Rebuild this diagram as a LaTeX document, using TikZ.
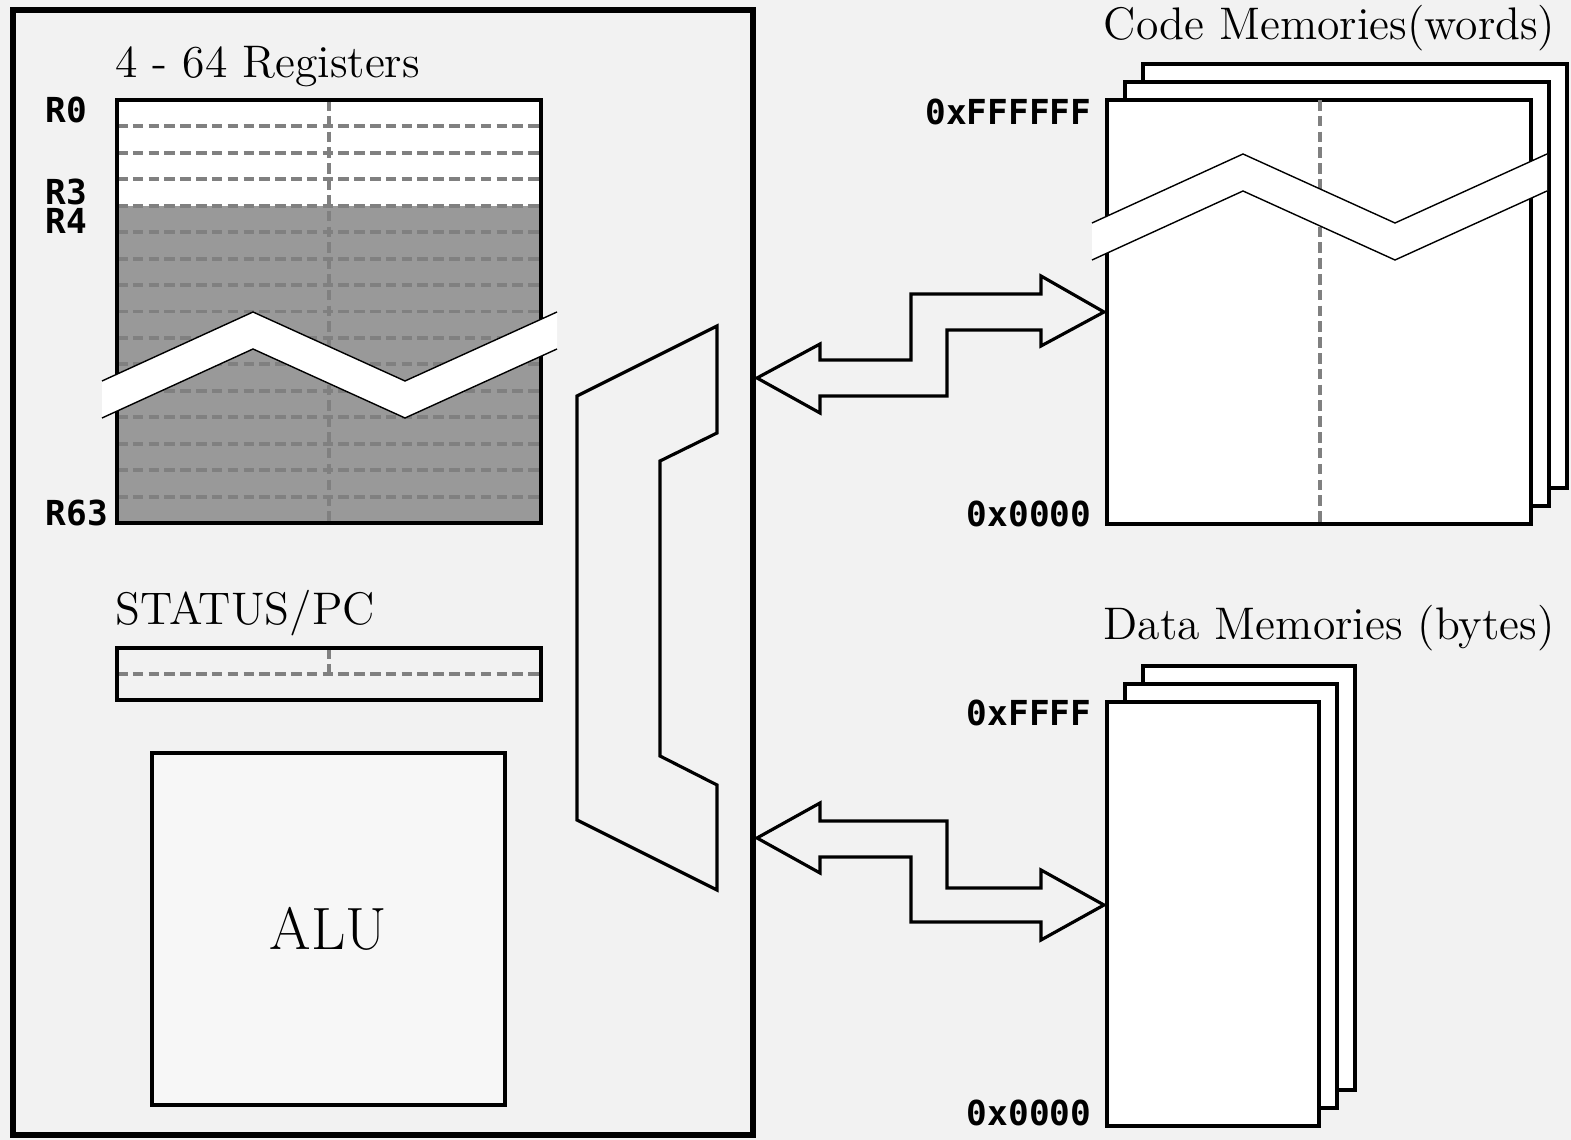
\documentclass[tikz,border=0pt]{standalone}
\usepackage{fontspec}
\newfontfamily\addrfont{DejaVu Sans Mono}
\definecolor{bgcol}{HTML}{F2F2F2}
\definecolor{reggrey}{HTML}{999999}
\definecolor{dashgrey}{HTML}{808080}
\definecolor{alufill}{HTML}{F7F7F7}
\tikzset{
  tear/.pic={
    \fill[white] (0,0) -- (151,-69) -- (303,0) -- (455,-69) -- (455,-32) -- (303,37) -- (151,-32) -- (0,37) -- cycle;
    \draw[line width=0.4pt] (0,0) -- (151,-69) -- (303,0) -- (455,-69);
    \draw[line width=0.4pt] (0,37) -- (151,-32) -- (303,37) -- (455,-32);
  }
}
\begin{document}
\begin{tikzpicture}[x=0.1mm,y=-0.1mm,
    box/.style={draw=black,line width=0.9pt},
    gridline/.style={draw=dashgrey,line width=1.1pt,dash pattern=on 3pt off 1.5pt},
    bus/.style={draw=black,line width=0.9pt},
    addr/.style={font=\addrfont\bfseries\fontsize{9.8}{11}\selectfont,inner sep=0pt},
    title/.style={font=\fontsize{13}{16}\selectfont,inner sep=0pt,anchor=base west}]
	\useasboundingbox (0,0) rectangle (1571,1140);
	\fill[bgcol] (0,0) rectangle (1571,1140);

	% CPU
	\draw[line width=1.6pt] (13,10) rectangle (753,1135);

	% registers
	\node[title] (regtitle) at (115,78) {4 - 64 Registers};
	\fill[white] (117,100) rectangle (541,206);
	\fill[reggrey] (117,206) rectangle (541,523);
	\foreach \i in {1,...,15}
		\draw[gridline] (117,100+26.44*\i) -- (541,100+26.44*\i);
	\draw[gridline] (329,100) -- (329,523);
	\draw[box] (117,100) rectangle (541,523);
	\pic at (102,381) {tear};
	\node[addr,anchor=west] (r0) at (45,110) {R0};
	\node[addr,anchor=west] (r3) at (45,192) {R3};
	\node[addr,anchor=west] (r4) at (45,221) {R4};
	\node[addr,anchor=west] (r63) at (45,513) {R63};

	% status
	\node[title] (stattitle) at (115,625) {STATUS/PC};
	\draw[gridline] (117,674) -- (541,674);
	\draw[gridline] (329,648) -- (329,674);
	\draw[box] (117,648) rectangle (541,700);

	% alu
	\node[box,fill=alufill,minimum width=35.3mm,minimum height=35.2mm,
		font=\fontsize{17}{20}\selectfont] (alu) at (328.5,929) {ALU};

	% bus
	\draw[bus] (577,396) -- (717,326) -- (717,433) -- (660,461) -- (660,756)
		-- (717,785) -- (717,890) -- (577,820) -- cycle;

	% code arrows
	\draw[bus] (757,378) -- (820,344) -- (820,360) -- (911,360) -- (911,294)
		-- (1041,294) -- (1041,276) -- (1104,312) -- (1041,346) -- (1041,330)
		-- (947,330) -- (947,396) -- (820,396) -- (820,413) -- cycle;

	% data arrows
	\draw[bus] (757,838) -- (820,803) -- (820,821) -- (947,821) -- (947,888)
		-- (1041,888) -- (1041,870) -- (1104,905) -- (1041,940) -- (1041,922)
		-- (911,922) -- (911,857) -- (820,857) -- (820,873) -- cycle;

	% code memories
	\node[title] (codetitle) at (1103,40) {Code Memories(words)};
	\filldraw[box,fill=white] (1143,64) rectangle (1567,488);
	\filldraw[box,fill=white] (1125,82) rectangle (1549,506);
	\filldraw[box,fill=white] (1107,100) rectangle (1531,524);
	\draw[gridline] (1320,100) -- (1320,524);
	\pic at (1092,223) {tear};
	\node[addr,anchor=east] (codetop) at (1092,112) {0xFFFFFF};
	\node[addr,anchor=east] (codebot) at (1092,514) {0x0000};

	% data memories
	\node[title] (datatitle) at (1103,640) {Data Memories (bytes)};
	\filldraw[box,fill=white] (1143,666) rectangle (1355,1090);
	\filldraw[box,fill=white] (1125,684) rectangle (1337,1108);
	\filldraw[box,fill=white] (1107,702) rectangle (1319,1126);
	\node[addr,anchor=east] (datatop) at (1092,713) {0xFFFF};
	\node[addr,anchor=east] (databot) at (1092,1113) {0x0000};
\end{tikzpicture}
\end{document}
